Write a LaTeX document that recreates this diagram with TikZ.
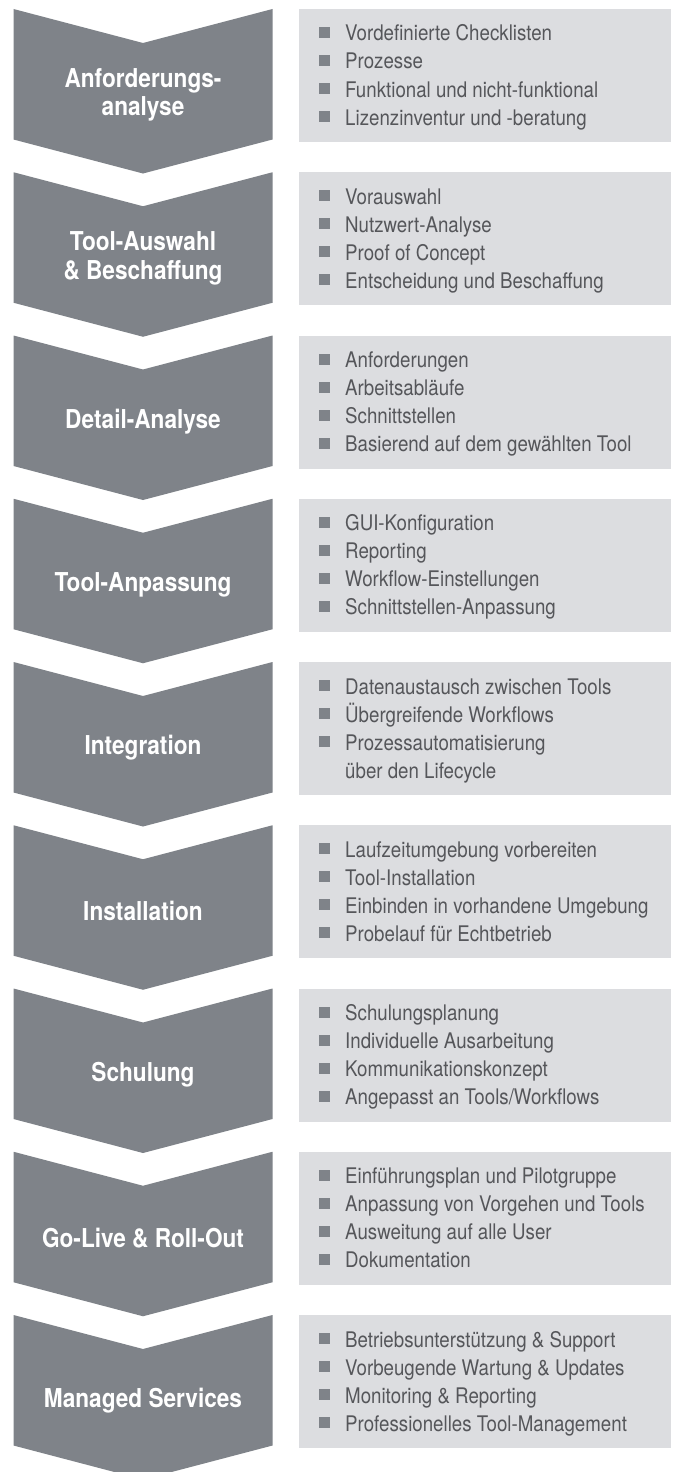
\documentclass[tikz,border=0pt]{standalone}
\usepackage{fontspec}
\setmainfont{TeX Gyre Heros}
\newfontfamily\titlefont{TeX Gyre Heros}[FakeStretch=0.87]
\newfontfamily\bodyfont{TeX Gyre Heros}[FakeStretch=0.87]
\definecolor{chevgray}{RGB}{127,131,137}
\definecolor{boxgray}{RGB}{220,221,224}
\definecolor{txtgray}{RGB}{85,86,90}
\tikzset{
  chev/.style={fill=chevgray},
  titlest/.style={text=white, font=\titlefont\bfseries\fontsize{26}{28.5}\selectfont, align=center, inner sep=0pt},
  boxst/.style={fill=boxgray, minimum width=372pt, minimum height=133pt, inner sep=0pt, anchor=north west},
  itemst/.style={text=txtgray, font=\bodyfont\fontsize{21.5}{24}\selectfont, inner sep=0pt, anchor=base west},
  sqst/.style={fill=chevgray, minimum size=11pt, inner sep=0pt},
}
\newcommand{\mystage}[3]{%
  \pgfmathsetmacro{\myTop}{9+163.25*#1}%
  \pgfmathsetmacro{\myNotch}{\myTop+34}%
  \pgfmathsetmacro{\myBot}{\myTop+130.5}%
  \pgfmathsetmacro{\myTip}{\myTop+164.5}%
  \pgfmathsetmacro{\myMid}{\myTop+86}%
  \fill[chev] (13.5,\myTop) -- (143,\myNotch) -- (272.5,\myTop) -- (272.5,\myBot) -- (143,\myTip) -- (13.5,\myBot) -- cycle;
  \node[boxst] (b#2) at (299,\myTop) {};
  \node[titlest] (c#2) at (143,\myMid) {#3};
}
\newcommand{\mybul}[4]{%
  \pgfmathsetmacro{\myBase}{9+163.25*#1+32+28*#3}%
  \pgfmathsetmacro{\mySq}{\myBase-8.5}%
  \node[sqst] (s#2#3) at (324.5,\mySq) {};
  \node[itemst] (t#2#3) at (345,\myBase) {#4};
}
\newcommand{\mycont}[4]{%
  \pgfmathsetmacro{\myBase}{9+163.25*#1+32+28*#3}%
  \node[itemst] (t#2#3) at (345,\myBase) {#4};
}
\begin{document}
\begin{tikzpicture}[x=1pt,y=-1pt]
\clip (0,0) rectangle (676,1472);
\fill[white] (0,0) rectangle (676,1472);

\mystage{0}{a}{Anforderungs-\\analyse}
\mybul{0}{a}{0}{Vordefinierte Checklisten}
\mybul{0}{a}{1}{Prozesse}
\mybul{0}{a}{2}{Funktional und nicht-funktional}
\mybul{0}{a}{3}{Lizenzinventur und -beratung}

\mystage{1}{b}{Tool-Auswahl\\\& Beschaffung}
\mybul{1}{b}{0}{Vorauswahl}
\mybul{1}{b}{1}{Nutzwert-Analyse}
\mybul{1}{b}{2}{Proof of Concept}
\mybul{1}{b}{3}{Entscheidung und Beschaffung}

\mystage{2}{c}{Detail-Analyse}
\mybul{2}{c}{0}{Anforderungen}
\mybul{2}{c}{1}{Arbeitsabläufe}
\mybul{2}{c}{2}{Schnittstellen}
\mybul{2}{c}{3}{Basierend auf dem gewählten Tool}

\mystage{3}{d}{Tool-Anpassung}
\mybul{3}{d}{0}{GUI-Konfiguration}
\mybul{3}{d}{1}{Reporting}
\mybul{3}{d}{2}{Workflow-Einstellungen}
\mybul{3}{d}{3}{Schnittstellen-Anpassung}

\mystage{4}{e}{Integration}
\mybul{4}{e}{0}{Datenaustausch zwischen Tools}
\mybul{4}{e}{1}{Übergreifende Workflows}
\mybul{4}{e}{2}{Prozessautomatisierung}
\mycont{4}{e}{3}{über den Lifecycle}

\mystage{5}{f}{Installation}
\mybul{5}{f}{0}{Laufzeitumgebung vorbereiten}
\mybul{5}{f}{1}{Tool-Installation}
\mybul{5}{f}{2}{Einbinden in vorhandene Umgebung}
\mybul{5}{f}{3}{Probelauf für Echtbetrieb}

\mystage{6}{g}{Schulung}
\mybul{6}{g}{0}{Schulungsplanung}
\mybul{6}{g}{1}{Individuelle Ausarbeitung}
\mybul{6}{g}{2}{Kommunikationskonzept}
\mybul{6}{g}{3}{Angepasst an Tools/Workflows}

\mystage{7}{h}{Go-Live \& Roll-Out}
\mybul{7}{h}{0}{Einführungsplan und Pilotgruppe}
\mybul{7}{h}{1}{Anpassung von Vorgehen und Tools}
\mybul{7}{h}{2}{Ausweitung auf alle User}
\mybul{7}{h}{3}{Dokumentation}

\mystage{8}{i}{Managed Services}
\mybul{8}{i}{0}{Betriebsunterstützung \& Support}
\mybul{8}{i}{1}{Vorbeugende Wartung \& Updates}
\mybul{8}{i}{2}{Monitoring \& Reporting}
\mybul{8}{i}{3}{Professionelles Tool-Management}
\end{tikzpicture}
\end{document}
